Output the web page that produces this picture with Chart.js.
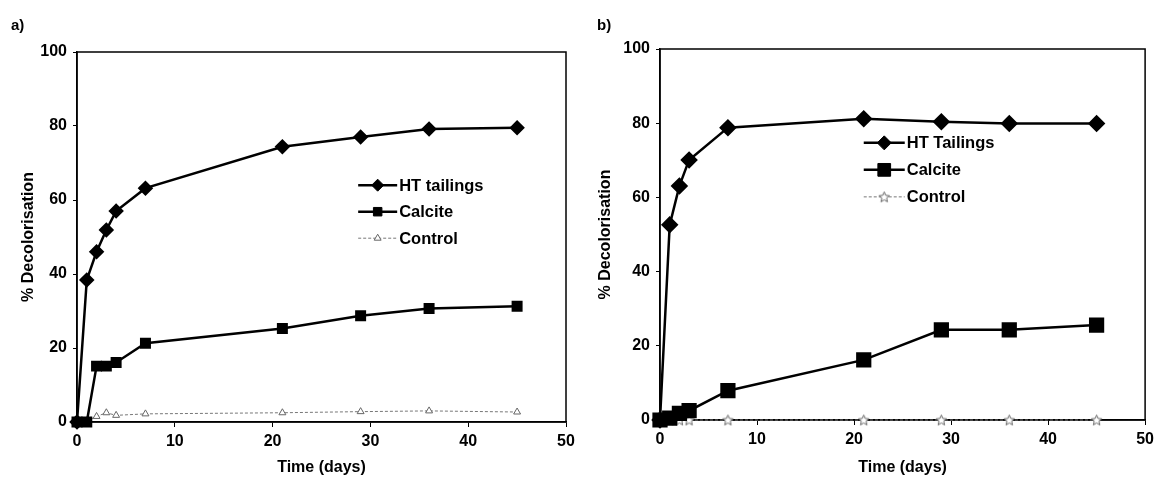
<!DOCTYPE html>
<html>
<head>
<meta charset="utf-8">
<script src="https://cdn.jsdelivr.net/npm/chart.js@4.4.1/dist/chart.umd.min.js"></script>
<style>
body { margin: 0; background: #fff; }
#wrap { position: relative; width: 1159px; height: 480px; }
.box { position: absolute; top: 0; height: 480px; }
</style>
</head>
<body>
<div id="wrap">
	<div class="box" style="left:0;width:580px"><canvas id="chartA"></canvas></div>
	<div class="box" style="left:580px;width:579px"><canvas id="chartB"></canvas></div>
</div>
<script>
// panel a
var daysA = [0, 1, 2, 3, 4, 7, 21, 29, 36, 45];
var htA = [0, 38.4, 46, 51.9, 57, 63.2, 74.4, 77, 79.2, 79.5];
var calciteA = [0, 0, 15.1, 15.1, 16.1, 21.3, 25.3, 28.7, 30.7, 31.3];
var controlA = [0, 0.3, 1.5, 2.5, 1.8, 2.2, 2.5, 2.8, 3, 2.7];
var labelsA = ['HT tailings', 'Calcite', 'Control'];

// panel b
var daysB = [0, 1, 2, 3, 7, 21, 29, 36, 45];
var htB = [0, 52.6, 63.1, 70.1, 78.8, 81.2, 80.4, 79.9, 79.9];
var calciteB = [0, 0.5, 1.8, 2.5, 7.9, 16.2, 24.3, 24.3, 25.6];
var controlB = [0, 0, 0, 0, 0, 0, 0, 0, 0];
var labelsB = ['HT Tailings', 'Calcite', 'Control'];

var xTicks = [0, 10, 20, 30, 40, 50];
var yTicks = [0, 20, 40, 60, 80, 100];

var FONT = '"Liberation Sans", Arial, sans-serif';

function pts(xs, ys)
{
	var out = [];
	for (var i = 0; i < xs.length; i++) out.push({x: xs[i], y: ys[i]});
	return out;
}

// open star marker for the control series of panel b
function starImage(size)
{
	var c = document.createElement('canvas');
	c.width = size; c.height = size;
	var g = c.getContext('2d');
	var cx = size / 2, cy = size / 2 + 0.5, ro = size / 2 - 1, ri = ro * 0.45;
	g.beginPath();
	for (var i = 0; i < 10; i++) {
		var r = (i % 2 == 0) ? ro : ri;
		var a = -Math.PI / 2 + i * Math.PI / 5;
		g.lineTo(cx + r * Math.cos(a), cy + r * Math.sin(a));
	}
	g.closePath();
	g.fillStyle = '#fff';
	g.fill();
	g.strokeStyle = '#666';
	g.lineWidth = 1;
	g.stroke();
	return c;
}

var framePlugin = {
	id: 'frame',
	beforeDatasetsDraw: function(chart) {
		var a = chart.chartArea, ctx = chart.ctx;
		ctx.save();
		ctx.strokeStyle = '#000';
		ctx.lineWidth = 1.5;
		ctx.strokeRect(a.left, a.top, a.right - a.left, a.bottom - a.top);
		ctx.restore();
	},
	afterDraw: function(chart) {
		var o = chart.options.plugins.frame;
		var a = chart.chartArea, ctx = chart.ctx;
		ctx.save();
		ctx.fillStyle = '#000';
		ctx.font = 'bold 15px ' + FONT;
		ctx.textBaseline = 'middle';
		ctx.fillText(o.panel, o.panelX, 26);

		// legend inside the plot
		var w = a.right - a.left, h = a.bottom - a.top;
		var x0 = a.left + o.legX * w;
		chart.data.datasets.forEach(function(ds, i) {
			var y = a.top + o.legY * h + i * o.legGap;
			ctx.save();
			ctx.strokeStyle = ds.borderColor;
			ctx.lineWidth = ds.borderWidth;
			ctx.setLineDash(ds.borderDash || []);
			ctx.beginPath();
			ctx.moveTo(x0, y);
			ctx.lineTo(x0 + o.legLen, y);
			ctx.stroke();
			ctx.restore();
			if (Chart.helpers && Chart.helpers.drawPoint) {
				ctx.save();
				ctx.fillStyle = ds.backgroundColor;
				ctx.strokeStyle = ds.pointBorderColor || ds.borderColor;
				ctx.lineWidth = 1;
				Chart.helpers.drawPoint(ctx, {pointStyle: ds.pointStyle, radius: ds.pointRadius, rotation: 0, borderWidth: 1}, x0 + o.legLen / 2, y);
				ctx.restore();
			}
			ctx.fillStyle = '#000';
			ctx.font = 'bold 16.5px ' + FONT;
			ctx.fillText(ds.label, x0 + o.legLen + 2, y + 1);
		});
		ctx.restore();
	}
};

function makeChart(id, days, ht, calcite, control, labels, opt)
{
	var ctx = document.getElementById(id).getContext('2d');
	return new Chart(ctx, {
		type: 'line',
		data: {
			datasets: [{
				label: labels[0],
				data: pts(days, ht),
				borderColor: '#000',
				backgroundColor: '#000',
				borderWidth: 2.5,
				pointStyle: 'rectRot',
				pointRadius: opt.diamond,
				pointBorderColor: '#000'
			}, {
				label: labels[1],
				data: pts(days, calcite),
				borderColor: '#000',
				backgroundColor: '#000',
				borderWidth: 2.5,
				pointStyle: 'rect',
				pointRadius: opt.square,
				pointBorderColor: '#000'
			}, {
				label: labels[2],
				data: pts(days, control),
				borderColor: '#777',
				backgroundColor: '#fff',
				borderWidth: 1,
				borderDash: [3, 2],
				pointStyle: opt.controlStyle,
				pointRadius: opt.tri,
				pointBorderColor: '#666',
				pointBorderWidth: 1
			}]
		},
		options: {
			responsive: true,
			maintainAspectRatio: false,
			animation: false,
			clip: false,
			layout: { padding: { left: opt.padLeft, right: opt.padRight, top: opt.padTop, bottom: 0 } },
			plugins: {
				legend: { display: false },
				tooltip: { enabled: false },
				frame: { panel: opt.panel, panelX: opt.panelX, legX: opt.legX, legY: opt.legY, legGap: opt.legGap, legLen: opt.legLen }
			},
			scales: {
				x: {
					type: 'linear', min: 0, max: 50,
					afterBuildTicks: function(s) { s.ticks = xTicks.map(function(v) { return {value: v}; }); },
					afterFit: function(s) { s.height = opt.xHeight; },
					ticks: { color: '#000', font: { family: FONT, size: 16, weight: 'bold' }, padding: 5, maxRotation: 0 },
					grid: { display: true, drawOnChartArea: false, drawTicks: true, tickLength: 5, color: '#000', lineWidth: 1 },
					border: { color: '#000', width: 1.5 },
					title: { display: true, text: 'Time (days)', color: '#000', font: { family: FONT, size: 16, weight: 'bold' }, padding: { top: 4, bottom: 3 } }
				},
				y: {
					min: 0, max: 100,
					afterBuildTicks: function(s) { s.ticks = yTicks.map(function(v) { return {value: v}; }); },
					afterFit: function(s) { s.width = opt.yWidth; },
					ticks: { color: '#000', font: { family: FONT, size: 16, weight: 'bold' }, padding: 6 },
					grid: { display: true, drawOnChartArea: false, drawTicks: true, tickLength: 4, color: '#000', lineWidth: 1 },
					border: { color: '#000', width: 1.5 },
					title: { display: true, text: '% Decolorisation', color: '#000', font: { family: FONT, size: 16, weight: 'bold' }, padding: 4 }
				}
			}
		},
		plugins: [framePlugin]
	});
}

makeChart('chartA', daysA, htA, calciteA, controlA, labelsA, {
	panel: 'a)', panelX: 11, padLeft: 15, yWidth: 62, padRight: 14, padTop: 52, xHeight: 58,
	diamond: 6, square: 6, tri: 4, controlStyle: 'triangle',
	legX: 0.575, legY: 0.36, legGap: 26.5, legLen: 39
});
makeChart('chartB', daysB, htB, calciteB, controlB, labelsB, {
	panel: 'b)', panelX: 17, padLeft: 12, yWidth: 68, padRight: 11, padTop: 49, xHeight: 60,
	diamond: 7, square: 9, tri: 5, controlStyle: starImage(13),
	legX: 0.42, legY: 0.253, legGap: 27, legLen: 41
});
</script>
</body>
</html>
